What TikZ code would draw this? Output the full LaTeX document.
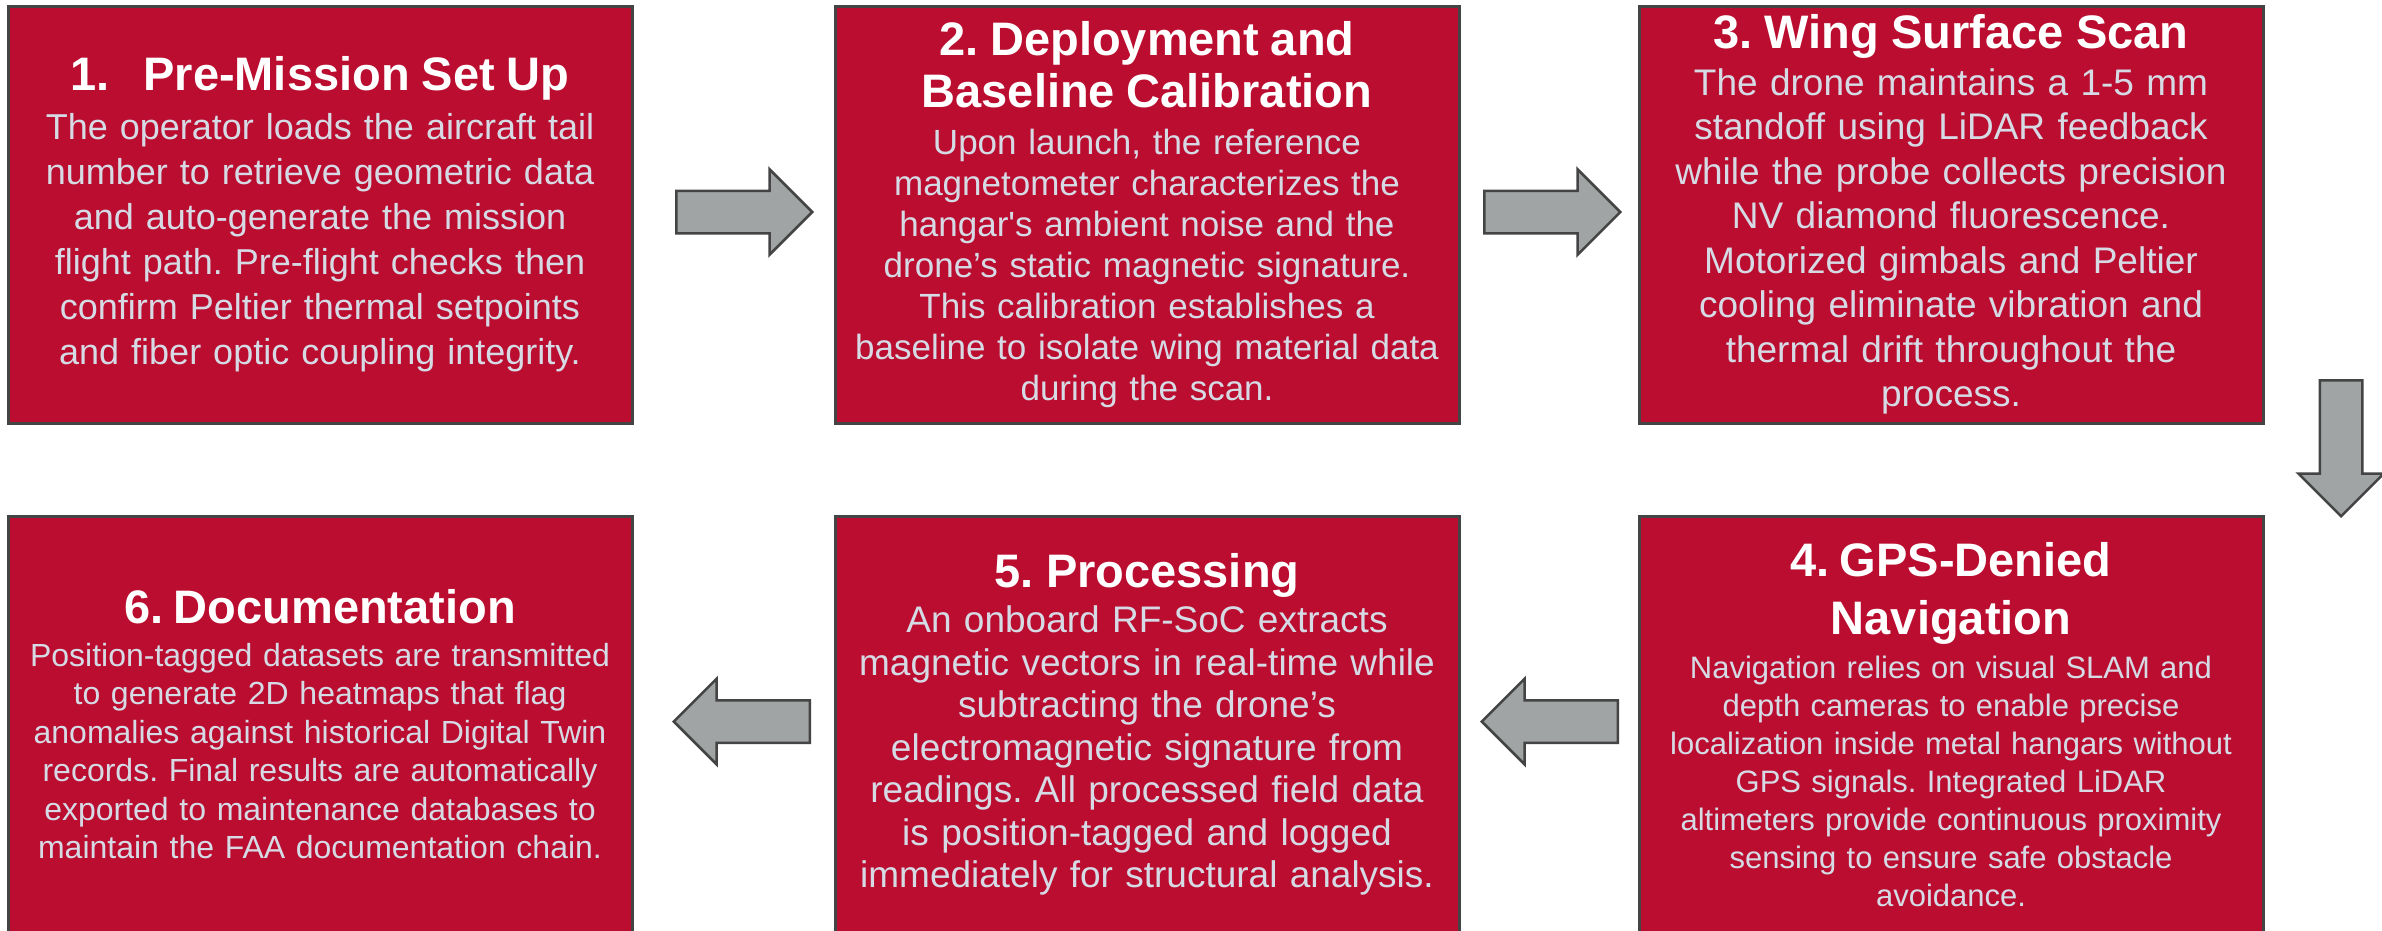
\documentclass[tikz,border=0pt]{standalone}
\usepackage{fontspec}
\setmainfont{Liberation Sans}
\usepackage{tikz}
\usetikzlibrary{positioning,shapes,arrows}
\definecolor{boxred}{RGB}{186,13,47}
\definecolor{boxedge}{RGB}{68,68,68}
\definecolor{bodygray}{RGB}{214,218,229}
\definecolor{arrowgray}{RGB}{160,164,164}
\newcommand{\headfont}{\color{white}\bfseries\fontsize{47}{52}\selectfont}
\frenchspacing
\tikzset{
    stepbox/.style={
        rectangle,
        draw=boxedge,
        line width=3pt,
        fill=boxred,
        text=bodygray,
        text width=616pt,
        inner xsep=4pt,
        align=center,
        minimum width=624pt,
        minimum height=417pt
    },
    blockarrow/.style={
        single arrow,
        draw=boxedge,
        line width=2.5pt,
        fill=arrowgray,
        inner xsep=0pt,
        inner ysep=20pt,
        single arrow head extend=21.5pt,
        minimum height=136pt,
        anchor=tail
    }
}

\begin{document}
\begin{tikzpicture}[x=1pt,y=1pt]
    \path[use as bounding box, fill=white] (0,0) rectangle (2382,-930);
    % top row, left to right
    \node (s1) [stepbox, font=\fontsize{36}{45}\selectfont] at (320,-214.5) {%
        {\headfont 1.\hspace{0.72em}Pre-Mission Set Up\\[4pt]}
        The operator loads the aircraft tail\\
        number to retrieve geometric data\\
        and auto-generate the mission\\
        flight path. Pre-flight checks then\\
        confirm Peltier thermal setpoints\\
        and fiber optic coupling integrity.};
    \node (s2) [stepbox, right=200pt of s1, font=\fontsize{35}{41}\selectfont] {%
        {\headfont 2. Deployment and\\Baseline Calibration\\[6pt]}
        Upon launch, the reference\\
        magnetometer characterizes the\\
        hangar\textquotesingle s ambient noise and the\\
        drone’s static magnetic signature.\\
        This calibration establishes a\\
        baseline to isolate wing material data\\
        during the scan.};
    \node (s3) [stepbox, right=177pt of s2, font=\fontsize{37}{44.5}\selectfont] {%
        {\headfont 3. Wing Surface Scan\\[2pt]}
        The drone maintains a 1-5 mm\\
        standoff using LiDAR feedback\\
        while the probe collects precision\\
        NV diamond fluorescence.\\
        Motorized gimbals and Peltier\\
        cooling eliminate vibration and\\
        thermal drift throughout the\\
        process.};
    % bottom row, right to left
    \node (s4) [stepbox, below=90pt of s3, font=\fontsize{31}{38}\selectfont] {%
        {\headfont 4. GPS-Denied\\[6pt]Navigation\\[6pt]}
        Navigation relies on visual SLAM and\\
        depth cameras to enable precise\\
        localization inside metal hangars without\\
        GPS signals. Integrated LiDAR\\
        altimeters provide continuous proximity\\
        sensing to ensure safe obstacle\\
        avoidance.};
    \node (s5) [stepbox, left=177pt of s4, font=\fontsize{37}{42.5}\selectfont] {%
        {\headfont 5. Processing\\[3pt]}
        An onboard RF-SoC extracts\\
        magnetic vectors in real-time while\\
        subtracting the drone’s\\
        electromagnetic signature from\\
        readings. All processed field data\\
        is position-tagged and logged\\
        immediately for structural analysis.};
    \node (s6) [stepbox, left=200pt of s5, font=\fontsize{32}{38.5}\selectfont] {%
        {\headfont 6. Documentation\\[4pt]}
        Position-tagged datasets are transmitted\\
        to generate 2D heatmaps that flag\\
        anomalies against historical Digital Twin\\
        records. Final results are automatically\\
        exported to maintenance databases to\\
        maintain the FAA documentation chain.};
    % block arrows between the steps
    \node (a12) [blockarrow] at ([xshift=41.5pt,yshift=2.5pt]s1.east) {};
    \node (a23) [blockarrow] at ([xshift=22.5pt,yshift=2.5pt]s2.east) {};
    \node (a34) [blockarrow, rotate=-90] at ([xshift=76.5pt,yshift=45.5pt]s3.south east) {};
    \node (a45) [blockarrow, rotate=180] at ([xshift=-18.5pt,yshift=3pt]s4.west) {};
    \node (a56) [blockarrow, rotate=180] at ([xshift=-22.5pt,yshift=3pt]s5.west) {};
\end{tikzpicture}
\end{document}
